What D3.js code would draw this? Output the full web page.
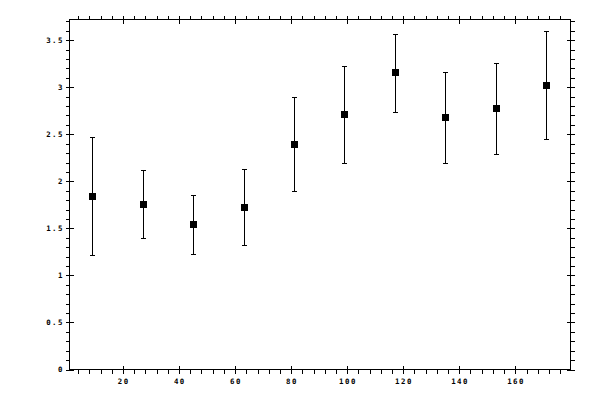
<!DOCTYPE html>
<html><head><meta charset="utf-8">
<script src="https://cdn.jsdelivr.net/npm/d3@7"></script>
<style>
html,body{margin:0;padding:0;background:#fff;}
svg{display:block;}
.lbl{font-family:"DejaVu Sans Mono",monospace;font-size:7.4px;font-weight:bold;letter-spacing:1.5px;fill:#000;}
</style></head>
<body>
<svg id="chart" width="600" height="400"></svg>
<script>
const xs = [9, 27, 45, 63, 81, 99, 117, 135, 153, 171];
const means = [1.84, 1.755, 1.543, 1.723, 2.394, 2.713, 3.16, 2.681, 2.777, 3.021];
const lows  = [1.213, 1.394, 1.223, 1.319, 1.894, 2.191, 2.734, 2.191, 2.287, 2.45];
const highs = [2.471, 2.117, 1.851, 2.128, 2.894, 3.223, 3.57, 3.16, 3.255, 3.596];
const xMajor = [20, 40, 60, 80, 100, 120, 140, 160];
const yMajor = [0, 0.5, 1, 1.5, 2, 2.5, 3, 3.5];
const yLabels = ["0", "0.5", "1", "1.5", "2", "2.5", "3", "3.5"];

const svg = d3.select("#chart");
const L = 69.5, R = 570.5, T = 19.5, B = 369.5;
const x = d3.scaleLinear().domain([0.9, 179.7]).range([L, R]);
const y = d3.scaleLinear().domain([0, 3.72]).range([B, T]);

const xMinor = d3.range(4, 180, 4);
const yMinor = d3.range(0, 3.75, 0.1).map(v => +v.toFixed(1));

const g = svg.append("g").attr("shape-rendering", "crispEdges");

function ax(gen, tx, ty) {
  const a = g.append("g").attr("transform", `translate(${tx},${ty})`).call(gen);
  a.select(".domain").remove();
  a.selectAll("text").remove();
  a.selectAll("line").attr("stroke", "#000").attr("stroke-width", 1);
  return a;
}
// outward ticks (minor + major)
ax(d3.axisBottom(x).tickValues(xMinor.concat(xMajor)).tickSize(4).tickSizeOuter(0), 0, B);
ax(d3.axisTop(x).tickValues(xMinor.concat(xMajor)).tickSize(4).tickSizeOuter(0), 0, T);
ax(d3.axisLeft(y).tickValues(yMinor).tickSize(4).tickSizeOuter(0), L, 0);
ax(d3.axisRight(y).tickValues(yMinor).tickSize(4).tickSizeOuter(0), R, 0);
// inward major ticks
ax(d3.axisBottom(x).tickValues(xMajor).tickSize(-4).tickSizeOuter(0), 0, B);
ax(d3.axisTop(x).tickValues(xMajor).tickSize(-4).tickSizeOuter(0), 0, T);
ax(d3.axisLeft(y).tickValues(yMajor).tickSize(-4).tickSizeOuter(0), L, 0);
ax(d3.axisRight(y).tickValues(yMajor).tickSize(-4).tickSizeOuter(0), R, 0);

// frame
g.append("rect").attr("x", L).attr("y", T).attr("width", R - L).attr("height", B - T)
  .attr("fill", "none").attr("stroke", "#000").attr("stroke-width", 1);

// labels
svg.selectAll("text.xl").data(xMajor).enter().append("text")
  .attr("class", "lbl xl").attr("x", d => x(d) + 0.8).attr("y", 384)
  .attr("text-anchor", "middle").text(d => d);
svg.selectAll("text.yl").data(yMajor).enter().append("text")
  .attr("class", "lbl yl").attr("x", 64).attr("y", d => y(d) + 2.6)
  .attr("text-anchor", "end").text((d, i) => yLabels[i]);

// error bars
const data = xs.map((v, i) => ({x: v, m: means[i], lo: lows[i], hi: highs[i]}));
const eb = g.selectAll("g.eb").data(data).enter().append("g").attr("class", "eb");
eb.append("line").attr("x1", d => Math.round(x(d.x)) + 0.5).attr("x2", d => Math.round(x(d.x)) + 0.5)
  .attr("y1", d => y(d.lo)).attr("y2", d => y(d.hi)).attr("stroke", "#000");
eb.append("line").attr("x1", d => Math.round(x(d.x)) - 2).attr("x2", d => Math.round(x(d.x)) + 3)
  .attr("y1", d => Math.round(y(d.hi)) + 0.5).attr("y2", d => Math.round(y(d.hi)) + 0.5).attr("stroke", "#000");
eb.append("line").attr("x1", d => Math.round(x(d.x)) - 2).attr("x2", d => Math.round(x(d.x)) + 3)
  .attr("y1", d => Math.round(y(d.lo)) + 0.5).attr("y2", d => Math.round(y(d.lo)) + 0.5).attr("stroke", "#000");
eb.append("rect").attr("x", d => Math.round(x(d.x)) - 3).attr("y", d => Math.round(y(d.m)) - 3)
  .attr("width", 7).attr("height", 7).attr("fill", "#000");
</script>
</body></html>
